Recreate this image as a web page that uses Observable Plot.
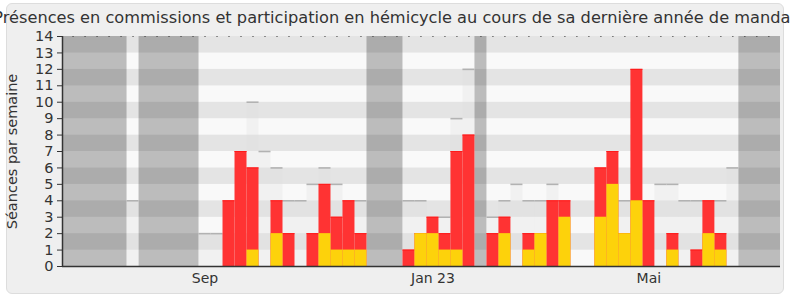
<!DOCTYPE html>
<html>
<head>
<meta charset="utf-8">
<script src="https://cdn.jsdelivr.net/npm/d3@7"></script>
<script src="https://cdn.jsdelivr.net/npm/@observablehq/plot@0.6"></script>
<style>
  html, body { margin: 0; padding: 0; background: #ffffff; }
  #wrap { position: relative; width: 790px; height: 300px; overflow: hidden; font-family: "DejaVu Sans", sans-serif; }
  #card { position: absolute; left: 6px; top: 3px; width: 776px; height: 289px; background: #efefef; border: 1px solid #dddddd; border-radius: 6px; }
  #title { position: absolute; left: -200px; width: 1190px; top: 8px; text-align: center; white-space: nowrap; font-size: 16.2px; color: #333333; }
  #chart { position: absolute; left: 0; top: 0; }
</style>
</head>
<body>
<div id="wrap">
  <div id="card"></div>
  <div id="title">Présences en commissions et participation en hémicycle au cours de sa dernière année de mandat</div>
  <div id="chart"></div>
</div>
<script>
// Week indices (one bar per week)
const weeks = d3.range(59);

// Présences en commission (red)
const commission = [
  0,0,0,0,0,0,0,0,0,0,
  0,0,0,4,7,6,0,4,2,0,
  2,5,3,4,2,0,0,0,1,2,
  3,2,7,8,0,2,3,0,2,2,
  4,4,0,0,6,7,2,12,4,0,
  2,0,1,4,2,0,0,0,0
];

// Interventions en hémicycle (yellow)
const interventions = [
  0,0,0,0,0,0,0,0,0,0,
  0,0,0,0,0,1,0,2,0,0,
  0,2,1,1,1,0,0,0,0,2,
  2,1,1,0,0,0,2,0,1,2,
  0,3,0,0,3,5,2,4,0,0,
  1,0,0,2,1,0,0,0,0
];

// Présences en hémicycle (light gray)
const hemicycle = [
  0,0,0,0,0,4,0,0,0,0,
  0,2,2,0,0,10,7,6,4,4,
  5,6,5,0,4,0,0,0,4,4,
  0,3,9,12,0,3,4,5,4,4,
  5,0,0,0,0,0,4,0,0,5,
  5,4,4,0,4,6,0,0,0
];

// Vacation periods (first and last week)
const vacFirst = [-2, 6, 25, 34, 56];
const vacLast  = [4, 10, 27, 34, 60];

// X tick labels
const tickWeeks = [11, 30, 48];
const tickLabels = ["Sep", "Jan 23", "Mai"];

const yLevels = d3.range(14);

const rows = weeks.map(w => ({
  w, commission: commission[w], interventions: interventions[w], hemicycle: hemicycle[w]
}));
const vacations = vacFirst.map((f, i) => ({ first: f, last: vacLast[i] }));

const chart = Plot.plot({
  width: 790,
  height: 300,
  marginTop: 36,
  marginBottom: 34,
  marginLeft: 62,
  marginRight: 10,
  style: { background: "transparent", fontFamily: "DejaVu Sans, sans-serif", color: "#333333" },
  x: { type: "linear", domain: [-0.88, 58.97] },
  y: { domain: [0, 14] },
  marks: [
    // Background stripes
    Plot.rectY(yLevels, {
      x1: -0.88, x2: 58.97,
      y1: d => d, y2: d => d + 1,
      fill: d => (d % 2 ? "#e4e4e4" : "#f9f9f9")
    }),
    // Vacation blocks
    Plot.rectY(vacations, {
      x1: d => d.first - 0.5, x2: d => d.last + 0.5,
      y1: 0, y2: 14,
      fill: "#000000", fillOpacity: 0.245,
      clip: true
    }),
    // Hemicycle presence
    Plot.rectY(rows.filter(d => d.hemicycle > 0), {
      x1: d => d.w - 0.5, x2: d => d.w + 0.5,
      y1: 0, y2: "hemicycle",
      fill: "#dddddd", fillOpacity: 0.3
    }),
    Plot.ruleY(rows.filter(d => d.hemicycle > 0), {
      x1: d => d.w - 0.5, x2: d => d.w + 0.5,
      y: "hemicycle",
      stroke: "#b2b2b2", strokeWidth: 1.6
    }),
    // Commission presence
    Plot.rectY(rows.filter(d => d.commission > 0), {
      x1: d => d.w - 0.5, x2: d => d.w + 0.5,
      y1: 0, y2: "commission",
      fill: "#ff3333"
    }),
    Plot.ruleY(rows.filter(d => d.commission > 0), {
      x1: d => d.w - 0.5, x2: d => d.w + 0.5,
      y: "commission",
      stroke: "#ff1a1a", strokeWidth: 1
    }),
    // Interventions
    Plot.rectY(rows.filter(d => d.interventions > 0), {
      x1: d => d.w - 0.5, x2: d => d.w + 0.5,
      y1: 0, y2: "interventions",
      fill: "#fdd20b"
    }),
    // Axes
    Plot.axisY({
      ticks: d3.range(15), tickSize: 5, tickPadding: 4, fontSize: 14.5,
      label: null, tickFormat: d => String(d)
    }),
    Plot.axisX({
      anchor: "bottom", ticks: tickWeeks, tickSize: 0, tickPadding: 7, fontSize: 14,
      label: null, tickFormat: d => tickLabels[tickWeeks.indexOf(d)]
    }),
    Plot.axisX({
      anchor: "top", ticks: weeks, tickSize: 1, label: null, tickFormat: () => ""
    }),
    Plot.ruleX([-0.88], { stroke: "#333333", strokeWidth: 1.5 }),
    Plot.ruleY([0], { stroke: "#333333", strokeWidth: 1.5 }),
    // Y axis title
    Plot.text(["Séances par semaine"], {
      frameAnchor: "left", textAnchor: "middle", text: d => d, rotate: -90, dx: -50,
      fontSize: 14.5, fill: "#333333"
    })
  ]
});
document.getElementById("chart").appendChild(chart);
</script>
</body>
</html>
